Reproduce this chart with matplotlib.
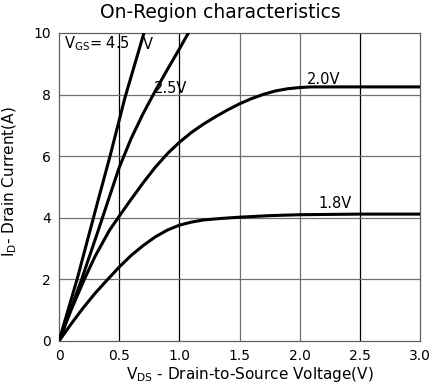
import matplotlib
matplotlib.use("Agg")
import matplotlib.pyplot as plt

plt.rcParams['font.family'] = ['DejaVu Sans']
plt.rcParams['mathtext.fontset'] = 'dejavusans'

# Data
v45 = [0, 0.15, 0.327, 0.424, 0.548, 0.706, 0.72]
i45 = [0, 2.0, 4.6, 6.0, 7.9, 10.0, 10.2]

v25 = [0, 0.1, 0.188, 0.327, 0.4, 0.5, 0.6, 0.7, 0.8, 0.9, 1.0, 1.075, 1.09]
i25 = [0, 1.05, 2.0, 3.6, 4.46, 5.63, 6.58, 7.39, 8.12, 8.81, 9.48, 10.0, 10.1]

v20 = [0, 0.1, 0.21, 0.3, 0.42, 0.5, 0.59, 0.7, 0.8, 0.9, 1.0, 1.1, 1.2, 1.3, 1.4, 1.5,
       1.6, 1.7, 1.8, 1.9, 2.0, 2.1, 3.0]
i20 = [0, 1.0, 2.0, 2.75, 3.6, 4.05, 4.55, 5.14, 5.64, 6.08, 6.45, 6.77, 7.04, 7.28, 7.5, 7.7,
       7.87, 8.01, 8.12, 8.19, 8.23, 8.25, 8.25]

v18 = [0, 0.1, 0.2, 0.3, 0.4, 0.5, 0.6, 0.7, 0.8, 0.9, 1.0, 1.1, 1.2, 1.35, 1.5, 1.75, 2.0, 2.5, 3.0]
i18 = [0, 0.55, 1.07, 1.55, 1.98, 2.4, 2.78, 3.1, 3.38, 3.6, 3.76, 3.86, 3.93, 3.98, 4.02, 4.07, 4.1, 4.12, 4.12]

xticks = [0, 0.5, 1.0, 1.5, 2.0, 2.5, 3.0]
xticklabels = ['0', '0.5', '1.0', '1.5', '2.0', '2.5', '3.0']
yticks = [0, 2, 4, 6, 8, 10]
yticklabels = ['0', '2', '4', '6', '8', '10']

fig = plt.figure(figsize=(4.34, 3.89), dpi=100)
ax = fig.add_axes([59/434, 48/389, 361/434, 308/389])
ax.set_xlim(0, 3.0)
ax.set_ylim(0, 10)

# grid
for x in [0.5, 1.0, 2.5]:
    ax.axvline(x, color='black', lw=0.9, zorder=1)
for x in [1.5, 2.0]:
    ax.axvline(x, color='#707070', lw=0.9, zorder=1)
for y in [2, 4, 6, 8]:
    ax.axhline(y, color='#707070', lw=0.9, zorder=1)

for s in ax.spines.values():
    s.set_color('#606060')
    s.set_linewidth(0.9)

for vx, iy in [(v45, i45), (v25, i25), (v20, i20), (v18, i18)]:
    ax.plot(vx, iy, color='black', lw=2.2, solid_capstyle='round',
            solid_joinstyle='round', zorder=3)

ax.set_xticks(xticks)
ax.set_xticklabels(xticklabels)
ax.set_yticks(yticks)
ax.set_yticklabels(yticklabels)
ax.tick_params(length=0, labelsize=10, pad=6)

ax.text(0.04, 9.64, r'V$_\mathregular{GS}$= 4.5', fontsize=10.5, va='center', ha='left', zorder=4)
ax.text(0.70, 9.64, 'V', fontsize=10.5, va='center', ha='left', zorder=4)
ax.text(0.79, 8.2, '2.5V', fontsize=10.5, va='center', ha='left', zorder=4)
ax.text(2.06, 8.5, '2.0V', fontsize=10.5, va='center', ha='left', zorder=4)
ax.text(2.16, 4.45, '1.8V', fontsize=10.5, va='center', ha='left', zorder=4)

fig.text(220/434, 1 - 13/389, 'On-Region characteristics', fontsize=13.5, ha='center', va='center')
fig.text(250/434, 1 - 375/389, r'V$_\mathregular{DS}$ - Drain-to-Source Voltage(V)', fontsize=11, ha='center', va='center')
fig.text(10/434, 1 - 182/389, r'I$_\mathregular{D}$- Drain Current(A)', fontsize=11, ha='center', va='center', rotation=90)

fig.savefig('out.png', dpi=100)
